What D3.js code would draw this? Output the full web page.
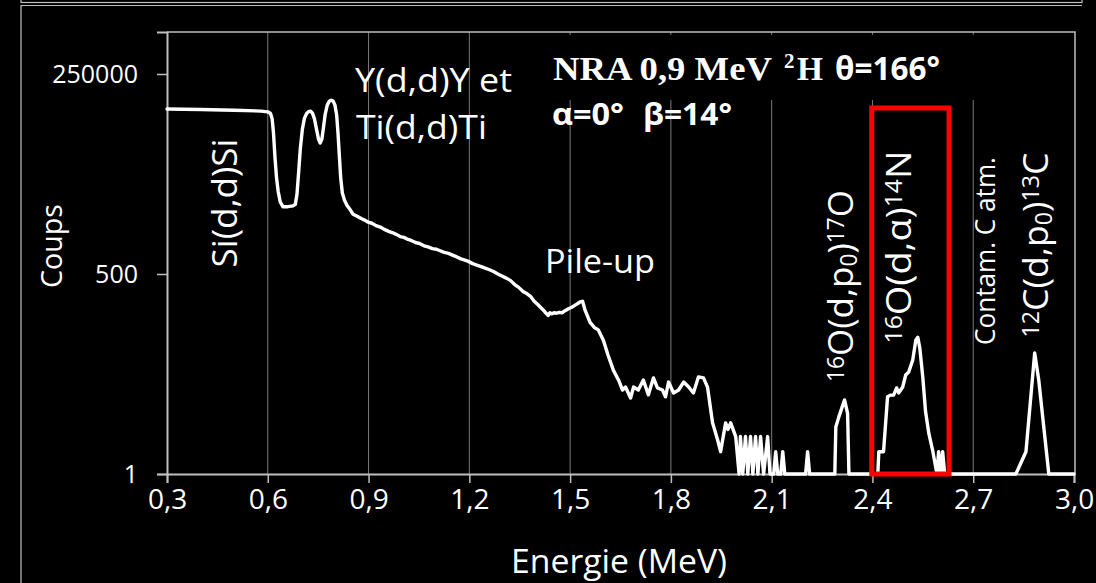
<!DOCTYPE html>
<html><head><meta charset="utf-8">
<script src="https://cdn.jsdelivr.net/npm/d3@7"></script>
<style>html,body{margin:0;padding:0;background:#000;overflow:hidden}</style>
</head><body>
<svg id="c" width="1096" height="583"></svg>
<script>
// ---- data (energy in MeV, counts) ----
const energy = [
  0.300,0.400,0.500,0.580,0.600,0.608,0.613,0.617,0.621,0.626,0.631,0.637,0.645,0.660,0.675,0.682,0.687,0.692,0.697,0.703,
  0.709,0.716,0.722,0.728,0.733,0.739,0.745,0.751,0.756,0.761,0.766,0.771,0.777,0.783,0.789,0.795,0.800,0.805,0.809,0.813,
  0.817,0.822,0.828,0.836,0.845,0.854,0.866,0.878,0.890,0.899,0.910,0.922,0.935,0.947,0.960,0.972,0.984,0.994,1.005,1.015,
  1.027,1.040,1.052,1.065,1.077,1.090,1.102,1.113,1.125,1.138,1.150,1.163,1.175,1.187,1.197,1.210,1.222,1.235,1.247,1.260,
  1.272,1.285,1.297,1.310,1.322,1.335,1.347,1.360,1.372,1.382,1.393,1.403,1.413,1.423,1.430,1.435,1.440,1.445,1.452,1.460,
  1.468,1.476,1.485,1.495,1.505,1.515,1.523,1.531,1.537,1.545,1.560,1.572,1.584,1.599,1.613,1.629,1.644,1.656,1.665,1.680,
  1.689,1.703,1.718,1.733,1.748,1.760,1.775,1.784,1.793,1.808,1.823,1.838,1.853,1.867,1.882,1.897,1.909,1.924,1.939,1.948,
  1.963,1.970,1.978,1.993,2.003,2.007,2.014,2.022,2.029,2.037,2.044,2.052,2.059,2.067,2.076,2.088,2.095,2.106,2.112,2.118,
  2.127,2.133,2.139,2.201,2.207,2.213,2.288,2.291,2.300,2.317,2.326,2.330,2.416,2.419,2.433,2.445,2.454,2.463,2.472,2.478,
  2.490,2.499,2.508,2.520,2.529,2.535,2.541,2.550,2.558,2.568,2.580,2.592,2.597,2.603,2.609,2.615,2.827,2.857,2.883,2.895,
  2.925,3.000
];
const counts = [
  84300,83000,81000,79000,77000,74000,62000,40000,20000,10000,6500,4700,4050,4050,4150,4350,6000,12000,25000,45000,
  63000,74000,78000,78500,74000,62000,45000,33000,29300,33000,48000,72000,95000,107000,111000,107000,95000,70000,40000,20000,
  10000,6200,5000,4200,3700,3200,3000,2800,2650,2500,2420,2250,2150,2000,1880,1800,1700,1600,1560,1480,
  1420,1330,1290,1200,1160,1100,1080,1030,980,950,900,850,800,770,740,690,660,630,600,570,
  540,500,470,440,410,360,330,290,270,250,215,195,175,158,145,138,150,145,150,148,
  152,150,160,170,178,190,200,212,214,160,110,95,88,64,40,25,18.6,13.6,14.9,10.6,
  14.9,13.6,18.6,11.7,19.8,14.5,13.6,11,17.4,12.4,13.6,17.4,14.9,12.4,20.4,19.8,14.9,4.9,2.9,2.0,
  4.9,4.0,4.9,3.2,1,3.2,1,3.2,1,3.2,1,3.2,1,3.2,1,3.2,1,1,2,1,
  1,2,1,1,2,1,1,4.3,5.9,10,6.6,1,1,2,2,11,11.6,11.6,14.5,12.4,
  14.9,21.7,23.8,34.5,64,70,50,20,7,3.5,2,1,2,1,2,1,1,2,43,18.6,
  1,1
];
const xTicks = [0.3,0.6,0.9,1.2,1.5,1.8,2.1,2.4,2.7,3.0];
const yTicks = [1,500,250000];
const xTitle = "Energie (MeV)";
const yTitle = "Coups";
const boxEnergy = [2.398, 2.628];
const boxCounts = [1, 87000];

// ---- drawing ----
const svg = d3.select("#c");
const L = 167, R = 1074, T = 32, B = 474;
const x = d3.scaleLinear().domain([0.3, 3.0]).range([L, R]);
const y = d3.scaleLog().domain([1, 922000]).range([B, T]);
const FONT = "'Open Sans', sans-serif";

// frame
svg.append("rect").attr("x",0).attr("y",0).attr("width",1096).attr("height",583).attr("fill","#000");
svg.append("rect").attr("x",21).attr("y",-10).attr("width",1061).attr("height",12.5)
  .attr("fill","none").attr("stroke","#bfbfbf").attr("stroke-width",1.2);
svg.append("path").attr("d","M21,600 V5.5 H1082").attr("fill","none").attr("stroke","#bfbfbf").attr("stroke-width",1.2);

// gridlines
svg.append("g").selectAll("line").data(xTicks.slice(1, -1)).join("line")
  .attr("x1", d => x(d)).attr("x2", d => x(d)).attr("y1", B).attr("y2", T)
  .attr("stroke", "#7a7a7a").attr("stroke-width", 1);

// plot border (top / right)
svg.append("path").attr("d", `M${L},${T} H${R+1} V${B}`).attr("fill","none")
  .attr("stroke","#bfbfbf").attr("stroke-width",1.5);

// black box behind the title text (hides gridlines)
svg.append("rect").attr("x",520).attr("y",35).attr("width",480).attr("height",65).attr("fill","#000");

// axes
const xAxis = d3.axisBottom(x).tickValues(xTicks).tickSize(9).tickPadding(6)
  .tickFormat(d => d3.format(".1f")(d).replace(".", ","));
const gx = svg.append("g").attr("transform", `translate(0,${B})`).call(xAxis);
gx.select(".domain").attr("stroke","#bfbfbf").attr("stroke-width",2);
gx.selectAll(".tick line").attr("stroke","#bfbfbf").attr("stroke-width",1.5);
gx.selectAll(".tick text").attr("fill","#fff").attr("font-family",FONT).attr("font-size",28)
  .attr("dy", "0.71em");

const yAxis = d3.axisLeft(y).tickValues(yTicks).tickSize(10).tickPadding(19)
  .tickFormat(d => String(d));
const gy = svg.append("g").attr("transform", `translate(${L},0)`).call(yAxis);
gy.select(".domain").attr("stroke","#bfbfbf").attr("stroke-width",2);
gy.selectAll(".tick line").attr("stroke","#bfbfbf").attr("stroke-width",1.5);
gy.selectAll(".tick text").attr("fill","#fff").attr("font-family",FONT).attr("font-size",25);

// data line
const pts = energy.map((e, i) => [e, counts[i]]);
const line = d3.line().x(d => x(d[0])).y(d => y(d[1])).curve(d3.curveLinear);
svg.append("path").datum(pts).attr("d", line).attr("fill","none").attr("stroke","#fff")
  .attr("stroke-width",3.4).attr("stroke-linejoin","round").attr("stroke-linecap","round");

// red box
svg.append("rect")
  .attr("x", x(boxEnergy[0])).attr("y", y(boxCounts[1]))
  .attr("width", x(boxEnergy[1]) - x(boxEnergy[0])).attr("height", y(boxCounts[0]) - y(boxCounts[1]))
  .attr("fill","none").attr("stroke","#ff0000").attr("stroke-width",5);

// ---- text helpers ----
function txt(parts, opt) {
  const g = svg.append("g");
  const t = g.append("text").attr("fill","#fff").attr("font-family", opt.family || FONT)
    .attr("font-size", opt.size).attr("font-weight", opt.weight || "normal")
    .attr("text-anchor", opt.anchor || "start");
  parts.forEach(p => {
    const [s, kind] = Array.isArray(p) ? p : [p, "n"];
    const ts = t.append("tspan").text(s);
    if (kind === "sup") ts.attr("font-size", opt.size * 0.65).attr("baseline-shift", "38%");
    if (kind === "sub") ts.attr("font-size", opt.size * 0.65).attr("baseline-shift", "-18%");
  });
  let k = 1;
  if (opt.len) { const w = t.node().getComputedTextLength(); if (w > 0) k = opt.len / w; }
  g.attr("transform", `translate(${opt.x},${opt.y}) rotate(${opt.rot || 0}) scale(${k},1)`);
  return t;
}

// axis titles
txt([xTitle], {x: 619, y: 573, size: 33, anchor: "middle", len: 216});
txt([yTitle], {x: 62, y: 246, size: 30, anchor: "middle", rot: -90, len: 84});

// annotations
txt(["Si(d,d)Si"], {x: 237, y: 203, size: 35, anchor: "middle", rot: -90, len: 129});
txt(["Y(d,d)Y et"], {x: 355, y: 92, size: 33, len: 157});
txt(["Ti(d,d)Ti"], {x: 356, y: 139, size: 33, len: 131});
txt(["Pile-up"], {x: 545, y: 273, size: 32, len: 110});

txt([["16","sup"],"O(d,p",["0","sub"],")",["17","sup"],"O"], {x: 853, y: 286, size: 35, anchor: "middle", rot: -90, len: 192});
txt([["16","sup"],"O(d,α)",["14","sup"],"N"], {x: 911, y: 247, size: 35, anchor: "middle", rot: -90, len: 193});
txt(["Contam. C atm."], {x: 995, y: 251, size: 27, anchor: "middle", rot: -90, len: 188});
txt([["12","sup"],"C(d,p",["0","sub"],")",["13","sup"],"C"], {x: 1048, y: 245, size: 35, anchor: "middle", rot: -90, len: 185});

// title block
txt(["NRA 0,9 MeV"], {x: 553, y: 80, size: 33, weight: "bold", family: "'Liberation Serif', serif", len: 219});
txt(["2"], {x: 784, y: 68, size: 21, weight: "bold", family: "'Liberation Serif', serif"});
txt(["H"], {x: 797, y: 80, size: 33, weight: "bold", family: "'Liberation Serif', serif", len: 26});
txt(["θ=166°"], {x: 835, y: 80, size: 32, weight: "bold", len: 105});
txt(["α=0°"], {x: 552, y: 125, size: 30, weight: "bold", len: 72});
txt(["β=14°"], {x: 643, y: 125, size: 30, weight: "bold", len: 89});
</script>
</body></html>
